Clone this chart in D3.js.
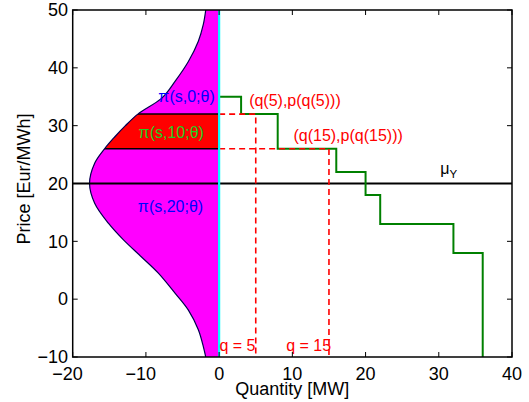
<!DOCTYPE html>
<html>
<head>
<meta charset="utf-8">
<script src="https://cdn.jsdelivr.net/npm/d3@7"></script>
<style>
  body { margin: 0; background: #fff; }
  svg { display: block; }
  text { font-family: "Liberation Sans", Arial, Helvetica, sans-serif; }
</style>
</head>
<body>
<div id="chart"></div>
<script>
// ---- Data ----
// Density curve pi(s,p;theta) drawn leftwards from q = 0 (price, quantity)
const densityPrice    = [50, 47.5, 44.6, 41.1, 37.7, 34.8, 32, 30, 28, 26, 23.5, 20, 16.6, 13.1, 10.3, 7.3, 4.5, 1.0, -1.9, -5.3, -8.2, -10];
const densityQuantity = [-1.83, -2.16, -2.84, -4.2, -6.0, -7.8, -11.1, -12.8, -14.3, -15.65, -17.0, -17.7, -17.0, -15.1, -13.1, -10.6, -8.3, -6.0, -4.2, -2.84, -2.16, -1.83];

// Supply step curve (green)
const stepQuantity = [0, 3, 8, 16, 20, 22, 32, 36];
const stepPrice    = [35, 32, 26, 22, 18, 13, 8, -10];

// Highlighted band of prices (red) and mean price
const bandPrices = [26, 32];
const meanPrice = 20;

// Demand quantities and their prices (red dashed)
const demandQ = [5, 15];
const demandP = [32, 26];

// Ticks
const xTicks = [-20, -10, 0, 10, 20, 30, 40];
const yTicks = [-10, 0, 10, 20, 30, 40, 50];

// Text annotations (left x and baseline in data units)
const annotations = [
  { text: "π(s,0;θ)",          q: -8.3,  p: 34.1,  color: "#0000ff" },
  { text: "π(s,10;θ)",         q: -11.0, p: 27.9,  color: "#22cc22" },
  { text: "π(s,20;θ)",         q: -11.1, p: 15.1,  color: "#0000ff" },
  { text: "(q(5),p(q(5)))",    q: 4.1,   p: 33.4,  color: "#ff0000" },
  { text: "(q(15),p(q(15)))",  q: 10.15, p: 27.35, color: "#ff0000" },
  { text: "q = 5",             q: 0.05,  p: -8.95, color: "#ff0000" },
  { text: "q = 15",            q: 9.15,  p: -8.95, color: "#ff0000" }
];

// ---- Drawing ----
const W = 529, H = 402;
const L = 72.7, R = 512, T = 10, B = 357;

const x = d3.scaleLinear().domain([-20, 40]).range([L, R]);
const y = d3.scaleLinear().domain([-10, 50]).range([B, T]);

const svg = d3.select("#chart").append("svg").attr("width", W).attr("height", H);
const defs = svg.append("defs");

defs.append("clipPath").attr("id", "plotClip")
  .append("rect").attr("x", L).attr("y", T).attr("width", R - L).attr("height", B - T);

const dens = densityPrice.map((p, i) => ({ p, q: densityQuantity[i] }));
const area = d3.area()
  .y(d => y(d.p))
  .x0(x(0))
  .x1(d => x(d.q))
  .curve(d3.curveCatmullRom.alpha(0.5));
const curveLine = d3.line()
  .y(d => y(d.p))
  .x(d => x(d.q))
  .curve(d3.curveCatmullRom.alpha(0.5));

defs.append("clipPath").attr("id", "areaClip")
  .append("path").attr("d", area(dens));
defs.append("clipPath").attr("id", "bandClip")
  .append("rect")
  .attr("x", L).attr("width", R - L)
  .attr("y", y(bandPrices[1])).attr("height", y(bandPrices[0]) - y(bandPrices[1]));

const plot = svg.append("g").attr("clip-path", "url(#plotClip)");

// magenta density
plot.append("path").attr("d", area(dens)).attr("fill", "#ff00ff");
// red band
plot.append("g").attr("clip-path", "url(#bandClip)")
  .append("path").attr("d", area(dens)).attr("fill", "#ff0000");
// black lines at band edges, clipped to the density shape
const bandLines = plot.append("g").attr("clip-path", "url(#areaClip)");
bandPrices.forEach(p => {
  bandLines.append("line")
    .attr("x1", x(-20)).attr("x2", x(0))
    .attr("y1", y(p)).attr("y2", y(p))
    .attr("stroke", "#000").attr("stroke-width", 1.5);
});
// density outline
plot.append("path").attr("d", curveLine(dens))
  .attr("fill", "none").attr("stroke", "#000050").attr("stroke-width", 1.2);

// mean price line
plot.append("line")
  .attr("x1", x(-20)).attr("x2", x(40))
  .attr("y1", y(meanPrice)).attr("y2", y(meanPrice))
  .attr("stroke", "#000").attr("stroke-width", 2);

// green step curve
const steps = stepQuantity.map((q, i) => ({ q, p: stepPrice[i] }));
plot.append("path")
  .attr("d", d3.line().x(d => x(d.q)).y(d => y(d.p)).curve(d3.curveStepAfter)(steps))
  .attr("fill", "none").attr("stroke", "#008000").attr("stroke-width", 2);

// red dashed demand guides
demandQ.forEach((q, i) => {
  const pts = [[0, demandP[i]], [q, demandP[i]], [q, -10]];
  plot.append("path")
    .attr("d", d3.line().x(d => x(d[0])).y(d => y(d[1]))(pts))
    .attr("fill", "none").attr("stroke", "#ff0000")
    .attr("stroke-width", 1.6).attr("stroke-dasharray", "6,4");
});

// cyan vertical at q = 0
plot.append("line")
  .attr("x1", x(0)).attr("x2", x(0))
  .attr("y1", y(-10)).attr("y2", y(50))
  .attr("stroke", "#00ffff").attr("stroke-width", 2.2);

// annotations
annotations.forEach(a => {
  svg.append("text")
    .attr("x", x(a.q)).attr("y", y(a.p))
    .attr("fill", a.color).attr("font-size", 16)
    .text(a.text);
});
// mu_Y
const mu = svg.append("text")
  .attr("x", x(30.2)).attr("y", y(21.6))
  .attr("fill", "#000").attr("font-size", 16);
mu.append("tspan").text("μ");
mu.append("tspan").attr("dy", 4).attr("font-size", 11.5).text("Y");

// axes box
svg.append("rect")
  .attr("x", L).attr("y", T).attr("width", R - L).attr("height", B - T)
  .attr("fill", "none").attr("stroke", "#000").attr("stroke-width", 1.5);

// ticks (inward, mirrored)
const tk = 5;
const tickG = svg.append("g").attr("stroke", "#000").attr("stroke-width", 1);
xTicks.forEach(v => {
  tickG.append("line").attr("x1", x(v)).attr("x2", x(v)).attr("y1", B).attr("y2", B - tk);
  tickG.append("line").attr("x1", x(v)).attr("x2", x(v)).attr("y1", T).attr("y2", T + tk);
});
yTicks.forEach(v => {
  tickG.append("line").attr("x1", L).attr("x2", L + tk).attr("y1", y(v)).attr("y2", y(v));
  tickG.append("line").attr("x1", R).attr("x2", R - tk).attr("y1", y(v)).attr("y2", y(v));
});

const fmt = d3.format("");
const FS = 18;
// x tick labels: digits centred on the tick, minus sign hanging to the left
xTicks.forEach(v => {
  const t = svg.append("text")
    .attr("y", 380).attr("font-size", FS).attr("fill", "#000")
    .text(fmt(Math.abs(v)));
  const w = t.node().getComputedTextLength();
  t.attr("x", x(v) + w / 2).attr("text-anchor", "end").text(fmt(v));
});
yTicks.forEach(v => {
  svg.append("text")
    .attr("x", 68).attr("y", y(v)).attr("dy", "0.35em")
    .attr("text-anchor", "end").attr("font-size", FS).attr("fill", "#000")
    .text(fmt(v));
});

// axis labels
svg.append("text")
  .attr("x", (L + R) / 2).attr("y", 395)
  .attr("text-anchor", "middle").attr("font-size", FS).attr("fill", "#000")
  .text("Quantity [MW]");
svg.append("text")
  .attr("transform", `translate(30,179) rotate(-90)`)
  .attr("text-anchor", "middle").attr("font-size", FS).attr("fill", "#000")
  .text("Price [Eur/MWh]");
</script>
</body>
</html>
